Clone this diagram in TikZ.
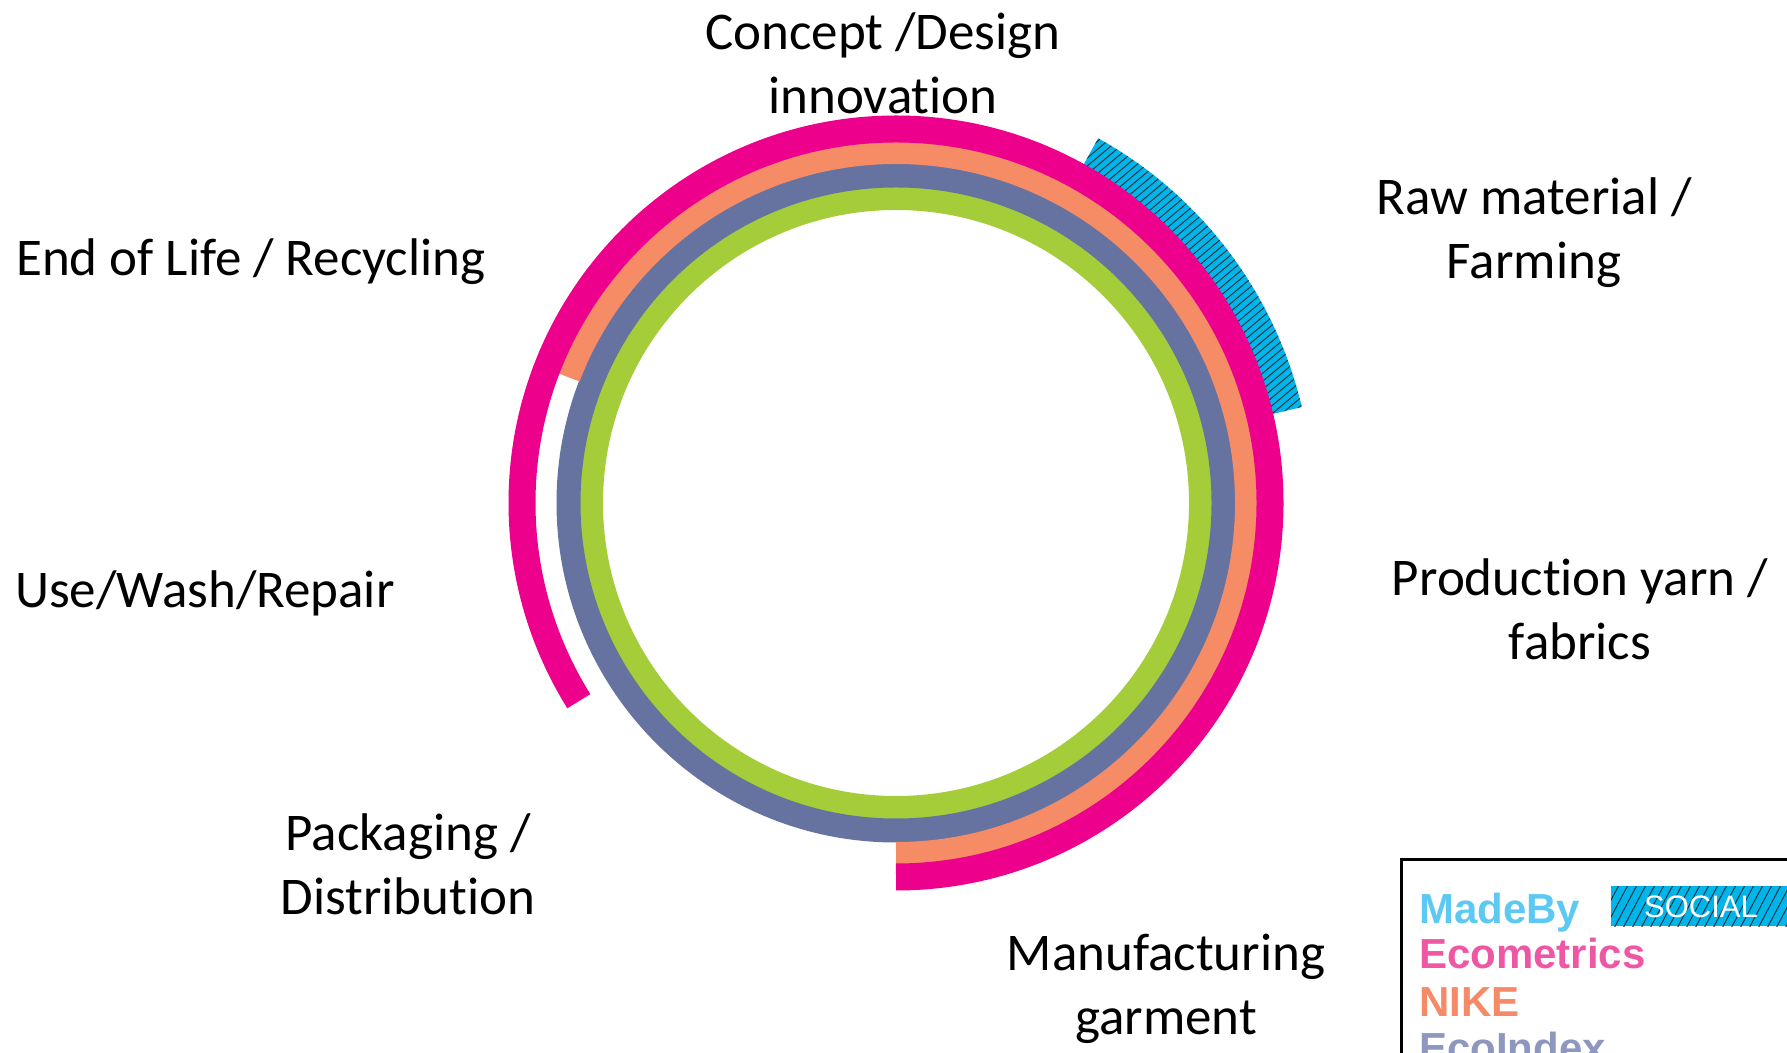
\documentclass[tikz,border=0pt]{standalone}
\usepackage{fontspec}
\usetikzlibrary{calc}
\setmainfont{Carlito}[Ligatures={NoCommon}]
\newfontfamily\legendfont{Liberation Sans}
\begin{document}
\begin{tikzpicture}[x=1pt,y=1pt,
  lbl/.style={inner sep=0pt, align=center, font=\fontsize{53}{64}\selectfont},
  ring/.style={line cap=butt, line width=#1},
  legtxt/.style={inner sep=0pt, anchor=base west, font=\legendfont\bfseries\fontsize{42}{42}\selectfont},
  hatchline/.style={draw=hatchdark, line width=1pt}
]
\definecolor{ringgreen}{HTML}{A5CD39}
\definecolor{ringblue}{HTML}{6673A1}
\definecolor{ringorange}{HTML}{F58C66}
\definecolor{ringmagenta}{HTML}{EC008C}
\definecolor{socialcyan}{HTML}{00B5EA}
\definecolor{hatchdark}{HTML}{1C3440}
\definecolor{legcyan}{HTML}{5BC9F1}
\definecolor{legpink}{HTML}{EE57A3}
\definecolor{legorange}{HTML}{F58B66}
\definecolor{leggray}{HTML}{8E97BD}

\useasboundingbox (0,0) rectangle (1787,1052);
\clip (0,0) rectangle (1787,1052);

\coordinate (c) at (896,549);

% hatched social band outside the outer ring
\begin{scope}
  \clip (c) ++(13.3:387pt) arc[start angle=13.3, end angle=61, radius=387pt]
        -- ($(c)+(61:417pt)$) arc[start angle=61, end angle=13.3, radius=417pt] -- cycle;
  \fill[socialcyan] (1050,600) rectangle (1330,940);
  \foreach \i in {0,...,70}
    \draw[hatchline] (660+\i*9.6,600) -- ++(40:560);
\end{scope}

% concentric rings
\draw[ring=23pt, ringgreen] (c) circle[radius=304.5pt];
\draw[ring=24pt, ringblue] (c) circle[radius=327.5pt];
\draw[ring=22pt, ringorange] (c) ++(-90:350pt) arc[start angle=-90, end angle=159, radius=350pt];
\draw[ring=27pt, ringmagenta] (c) ++(-90:374pt) arc[start angle=-90, end angle=212, radius=374pt];

% stage labels (base anchor sits on the last line)
\node[lbl, anchor=base] (concept) at (883,938) {Concept /Design\\innovation};
\node[lbl, anchor=base] (raw) at (1534,773) {Raw material /\\Farming};
\node[lbl, anchor=base west] (eol) at (16,776) {End of Life / Recycling};
\node[lbl, anchor=base west] (use) at (15,444) {Use/Wash/Repair};
\node[lbl, anchor=base] (prod) at (1580,392) {Production yarn /\\fabrics};
\node[lbl, anchor=base] (pack) at (408,138) {Packaging /\\Distribution};
\node[lbl, anchor=base] (manu) at (1166,18) {Manufacturing\\garment};

% legend box
\draw[line width=3pt, black] (1401,192) rectangle (1800,-20);
\begin{scope}
  \clip (1611,126) rectangle (1800,166);
  \fill[socialcyan] (1611,126) rectangle (1800,166);
  \foreach \i in {0,...,25}
    \draw[draw=hatchdark, line width=1pt] (1585+\i*9,120) -- ++(62:60);
\end{scope}
\node[inner sep=0pt, anchor=base, text=white, font=\legendfont\fontsize{31}{31}\selectfont] (social) at (1701,135) {SOCIAL};
\node[legtxt, text=legcyan] (madeby) at (1419,129) {MadeBy};
\node[legtxt, text=legpink] (ecometrics) at (1419,84) {Ecometrics};
\node[legtxt, text=legorange] (nike) at (1419,36) {NIKE};
\node[legtxt, text=leggray] (ecoindex) at (1419,-10) {EcoIndex};
\end{tikzpicture}
\end{document}
